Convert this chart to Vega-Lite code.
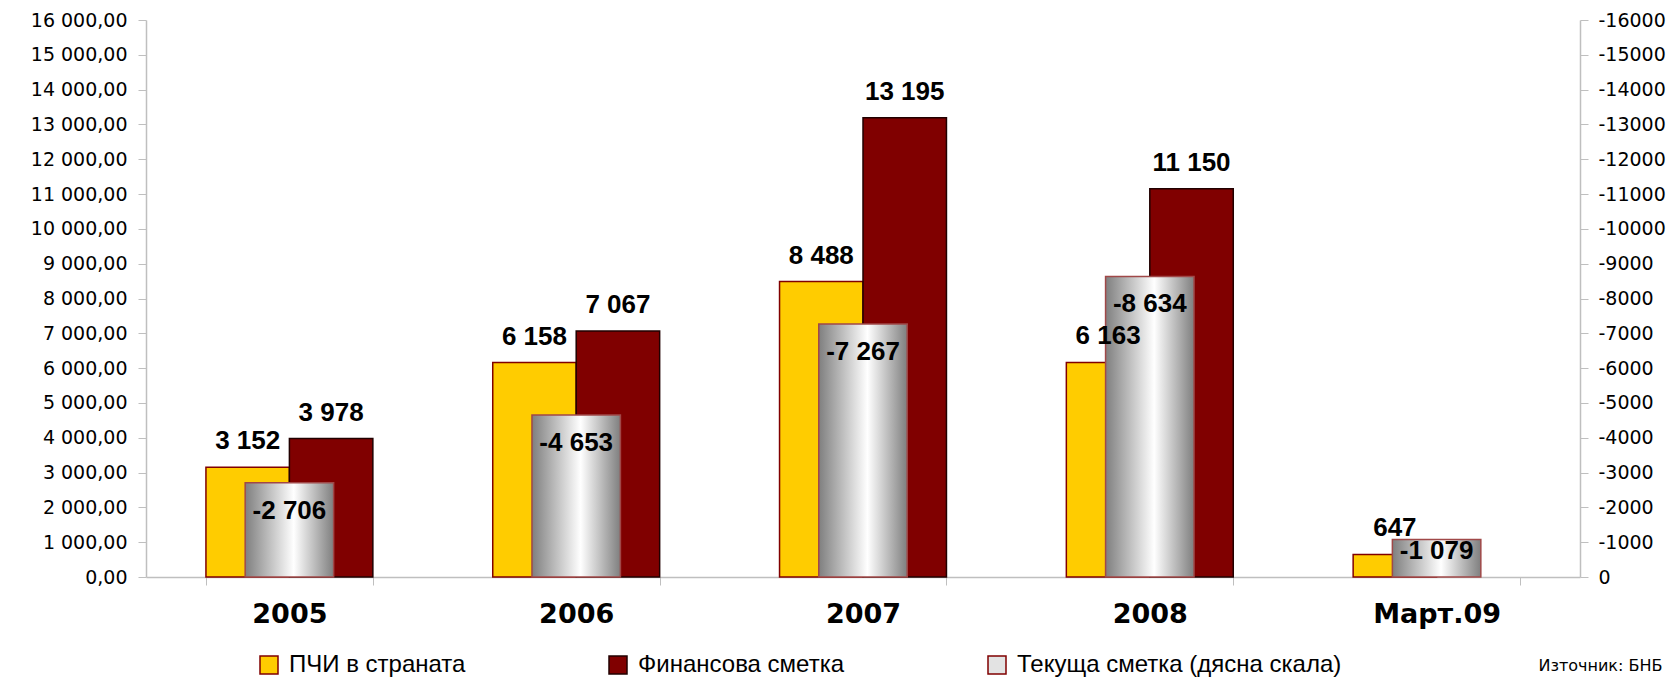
{
  "$schema": "https://vega.github.io/schema/vega-lite/v6.json",
  "width": 1434,
  "height": 557,
  "autosize": {"type": "none"},
  "padding": {"left": 146, "top": 20, "right": 100, "bottom": 100},
  "background": "white",
  "config": {"view": {"stroke": null}, "axis": {"grid": false}},
  "data": {
    "values": [
      {"cat": "2005", "series": "ПЧИ в страната", "value": 3152},
      {"cat": "2005", "series": "Финансова сметка", "value": 3978},
      {"cat": "2005", "series": "Текуща сметка (дясна скала)", "value": -2706},
      {"cat": "2006", "series": "ПЧИ в страната", "value": 6158},
      {"cat": "2006", "series": "Финансова сметка", "value": 7067},
      {"cat": "2006", "series": "Текуща сметка (дясна скала)", "value": -4653},
      {"cat": "2007", "series": "ПЧИ в страната", "value": 8488},
      {"cat": "2007", "series": "Финансова сметка", "value": 13195},
      {"cat": "2007", "series": "Текуща сметка (дясна скала)", "value": -7267},
      {"cat": "2008", "series": "ПЧИ в страната", "value": 6163},
      {"cat": "2008", "series": "Финансова сметка", "value": 11150},
      {"cat": "2008", "series": "Текуща сметка (дясна скала)", "value": -8634},
      {"cat": "Март.09", "series": "ПЧИ в страната", "value": 647},
      {"cat": "Март.09", "series": "Текуща сметка (дясна скала)", "value": -1079}
    ]
  },
  "encoding": {
    "x": {
      "field": "cat",
      "type": "nominal",
      "sort": ["2005", "2006", "2007", "2008", "Март.09"],
      "scale": {"paddingInner": 0.418, "paddingOuter": 0.209},
      "axis": {
        "title": "Източник: БНБ",
        "titleFont": "DejaVu Sans",
        "titleFontSize": 16,
        "titleFontWeight": "normal",
        "titleColor": "black",
        "titleX": 1516,
        "titleY": 93,
        "titleAlign": "right",
        "titleBaseline": "alphabetic",
        "labelAngle": 0,
        "labelFont": "DejaVu Sans",
        "labelFontWeight": "bold",
        "labelFontSize": 27,
        "labelColor": "black",
        "labelPadding": 16,
        "tickBand": "extent",
        "tickSize": 8,
        "tickColor": "#bfbfbf",
        "domainColor": "#bfbfbf",
        "domainWidth": 1.5
      }
    }
  },
  "layer": [
    {
      "transform": [{"filter": "datum.series !== 'Текуща сметка (дясна скала)'"}],
      "mark": {"type": "bar", "strokeWidth": 1.5},
      "encoding": {
        "y": {
          "field": "value",
          "type": "quantitative",
          "scale": {"domain": [0, 16000], "nice": false},
          "axis": {
            "title": null,
            "values": [0, 1000, 2000, 3000, 4000, 5000, 6000, 7000, 8000, 9000, 10000, 11000, 12000, 13000, 14000, 15000, 16000],
            "labelExpr": "replace(replace(format(datum.value, ',.2f'), ',', ' '), '.', ',')",
            "labelFont": "DejaVu Sans",
            "labelFontSize": 19,
            "labelColor": "black",
            "labelPadding": 11,
            "tickSize": 8,
            "tickColor": "#bfbfbf",
            "domainColor": "#bfbfbf",
            "domainWidth": 1.5
          }
        },
        "xOffset": {
          "field": "series",
          "type": "nominal",
          "scale": {"domain": ["ПЧИ в страната", "Финансова сметка"], "paddingInner": 0, "paddingOuter": 0}
        },
        "fill": {
          "field": "series",
          "type": "nominal",
          "scale": {
            "domain": ["ПЧИ в страната", "Финансова сметка", "Текуща сметка (дясна скала)"],
            "range": ["#FFCC00", "#800000", "#e3e3e3"]
          },
          "legend": {
            "orient": "none",
            "legendX": 111,
            "legendY": 633,
            "direction": "horizontal",
            "title": null,
            "symbolType": "square",
            "symbolSize": 324,
            "symbolStrokeColor": "#800000",
            "symbolStrokeWidth": 1.5,
            "symbolOpacity": 1,
            "labelFont": "Liberation Sans",
            "labelFontSize": 24,
            "labelColor": "black",
            "labelOffset": 8,
            "columnPadding": 140,
            "labelLimit": 450
          }
        },
        "stroke": {
          "field": "series",
          "type": "nominal",
          "scale": {
            "domain": ["ПЧИ в страната", "Финансова сметка", "Текуща сметка (дясна скала)"],
            "range": ["#800000", "#200000", "#800000"]
          },
          "legend": null
        }
      }
    },
    {
      "transform": [{"filter": "datum.series === 'Текуща сметка (дясна скала)'"}],
      "mark": {
        "type": "bar",
        "width": {"band": 0.53},
        "color": {
          "gradient": "linear", "x1": 0, "y1": 0, "x2": 1, "y2": 0,
          "stops": [
            {"offset": 0, "color": "#7f7f7f"},
            {"offset": 0.55, "color": "#ffffff"},
            {"offset": 1, "color": "#7f7f7f"}
          ]
        },
        "stroke": "#a04848",
        "strokeWidth": 1.5
      },
      "encoding": {
        "y": {
          "field": "value",
          "type": "quantitative",
          "scale": {"domain": [-16000, 0], "reverse": true, "nice": false},
          "axis": {
            "orient": "right",
            "title": null,
            "values": [0, -1000, -2000, -3000, -4000, -5000, -6000, -7000, -8000, -9000, -10000, -11000, -12000, -13000, -14000, -15000, -16000],
            "labelExpr": "'' + datum.value",
            "labelFont": "DejaVu Sans",
            "labelFontSize": 19,
            "labelColor": "black",
            "labelPadding": 10,
            "tickSize": 8,
            "tickColor": "#bfbfbf",
            "domainColor": "#bfbfbf",
            "domainWidth": 1.5
          }
        }
      }
    },
    {
      "transform": [
        {"filter": "datum.series !== 'Текуща сметка (дясна скала)'"},
        {"calculate": "(datum.value < 0 ? '-' : '') + replace(format(abs(datum.value), ',d'), ',', ' ')", "as": "label"}
      ],
      "mark": {"type": "text", "baseline": "alphabetic", "dy": -18, "font": "Liberation Sans", "fontWeight": "bold", "fontSize": 26, "color": "black"},
      "encoding": {
        "y": {"field": "value", "type": "quantitative", "scale": {"domain": [0, 16000], "nice": false}, "axis": null},
        "xOffset": {
          "field": "series",
          "type": "nominal",
          "scale": {"domain": ["ПЧИ в страната", "Финансова сметка"], "paddingInner": 0, "paddingOuter": 0}
        },
        "text": {"field": "label", "type": "nominal"}
      }
    },
    {
      "transform": [
        {"filter": "datum.series === 'Текуща сметка (дясна скала)'"},
        {"calculate": "(datum.value < 0 ? '-' : '') + replace(format(abs(datum.value), ',d'), ',', ' ')", "as": "label"}
      ],
      "encoding": {
        "y": {"field": "value", "type": "quantitative", "scale": {"domain": [-16000, 0], "reverse": true, "nice": false}, "axis": null},
        "text": {"field": "label", "type": "nominal"}
      },
      "layer": [
        {
          "transform": [{"filter": "datum.cat !== 'Март.09'"}],
          "mark": {"type": "text", "baseline": "alphabetic", "dy": 36, "font": "Liberation Sans", "fontWeight": "bold", "fontSize": 26, "color": "black"}
        },
        {
          "transform": [{"filter": "datum.cat === 'Март.09'"}],
          "mark": {"type": "text", "baseline": "alphabetic", "dy": 20, "font": "Liberation Sans", "fontWeight": "bold", "fontSize": 26, "color": "black"}
        }
      ]
    }
  ],
  "resolve": {"scale": {"y": "independent"}}
}
